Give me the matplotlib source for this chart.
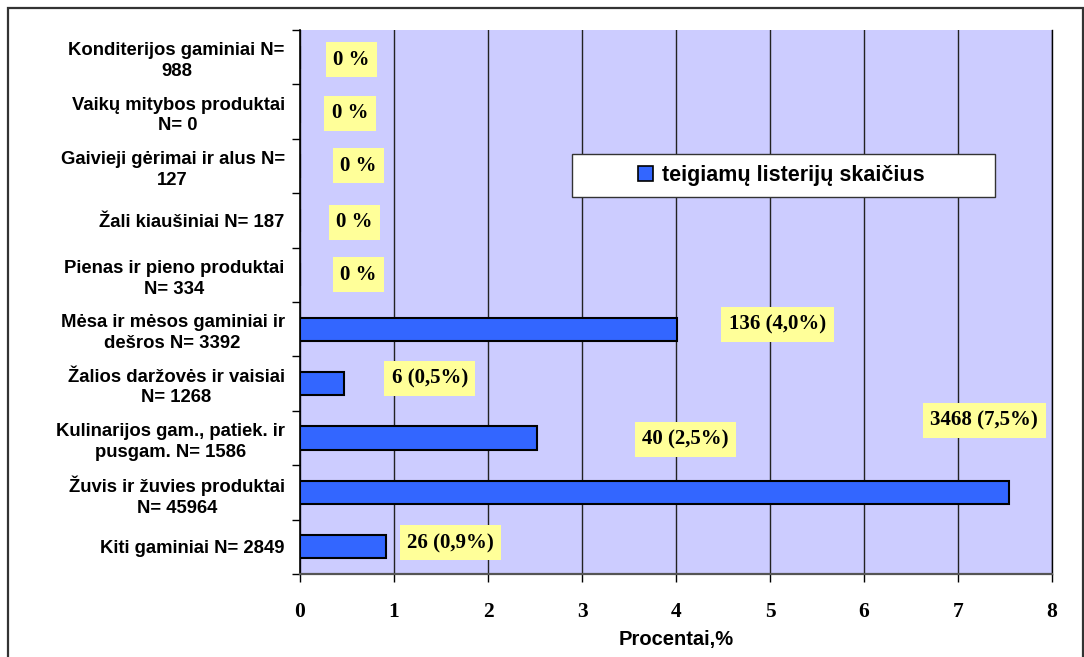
import matplotlib
matplotlib.use("Agg")
import matplotlib.pyplot as plt
from matplotlib.patches import Rectangle, Patch

# --- data ---------------------------------------------------------------
categories = [
    "Konditerijos gaminiai N=\n988",
    "Vaikų mitybos produktai\nN= 0",
    "Gaivieji gėrimai ir alus N=\n127",
    "Žali kiaušiniai N= 187",
    "Pienas ir pieno produktai\nN= 334",
    "Mėsa ir mėsos gaminiai ir\ndešros N= 3392",
    "Žalios daržovės ir vaisiai\nN= 1268",
    "Kulinarijos gam., patiek. ir\npusgam. N= 1586",
    "Žuvis ir žuvies produktai\nN= 45964",
    "Kiti gaminiai N= 2849",
]
sample_sizes = [988, 0, 127, 187, 334, 3392, 1268, 1586, 45964, 2849]
positive_counts = [0, 0, 0, 0, 0, 136, 6, 40, 3468, 26]
x_ticks = [0, 1, 2, 3, 4, 5, 6, 7, 8]
series_name = "teigiamų listerijų skaičius"
x_title = "Procentai,%"

# share of positive samples, in percent
percent = [c / n * 100 if n else 0.0 for c, n in zip(positive_counts, sample_sizes)]

# where each value label sits (x in percent units, y in category units)
label_x = [0.55, 0.53, 0.62, 0.58, 0.62, 5.08, 1.38, 4.10, 7.28, 1.60]
label_y = [0.05, 1.03, 2.00, 3.03, 4.00, 4.92, 5.90, 7.02, 6.67, 8.93]


def value_label(count, pct):
    if count == 0:
        return "0 %"
    return f"{count} ({pct:.1f}%)".replace(".", ",")


# --- styling ------------------------------------------------------------
SANS = ["Liberation Sans", "DejaVu Sans"]
SERIF = ["Liberation Serif", "DejaVu Serif"]
BAR_COLOR = "#3366FF"
PLOT_BG = "#CCCCFF"
LABEL_BG = "#FFFF99"

fig = plt.figure(figsize=(10.84, 6.57), dpi=100)
fig.patch.set_facecolor("white")

# outer chart frame
fig.patches.append(Rectangle((8 / 1084, -0.02), 1075 / 1084, 1.02 - 8 / 657,
                             transform=fig.transFigure, fill=False,
                             edgecolor="#333333", linewidth=1.6, zorder=0))

ax = fig.add_axes([300 / 1084, 1 - 574 / 657, 752 / 1084, 544 / 657])
ax.set_facecolor(PLOT_BG)

ypos = list(range(len(categories)))
ax.barh(ypos, percent, height=0.43, color=BAR_COLOR, edgecolor="black",
        linewidth=1.5, zorder=3)

ax.set_xlim(0, 8)
ax.set_ylim(len(categories) - 0.5, -0.5)

# vertical gridlines
ax.set_xticks(x_ticks)
ax.set_xticklabels([str(t) for t in x_ticks], fontfamily=SERIF,
                   fontweight="bold", fontsize=15.5)
ax.xaxis.grid(True, color="#222222", linewidth=1.0, zorder=1)
ax.set_axisbelow(True)
ax.tick_params(axis="x", direction="out", length=6, width=1, color="black",
               pad=14)

# category labels, with ticks on the category boundaries
ax.set_yticks(ypos)
ax.set_yticklabels(categories, fontfamily=SANS, fontweight="bold",
                   fontsize=13.3, ha="right", multialignment="center",
                   linespacing=1.3)
ax.tick_params(axis="y", which="major", length=0, pad=11)
ax.set_yticks([i - 0.5 for i in range(len(categories) + 1)], minor=True)
ax.tick_params(axis="y", which="minor", direction="out", length=6,
               width=1, color="black")

ax.spines["top"].set_visible(False)
ax.spines["right"].set_color("black")
ax.spines["right"].set_linewidth(1.0)
ax.spines["left"].set_color("black")
ax.spines["left"].set_linewidth(1.2)
ax.spines["bottom"].set_color("#555555")
ax.spines["bottom"].set_linewidth(1.6)

ax.set_xlabel(x_title, fontfamily=SANS, fontweight="bold", fontsize=14.5,
              labelpad=6)

# value labels on yellow boxes
for cnt, pct, lx, ly in zip(positive_counts, percent, label_x, label_y):
    ax.text(lx, ly, value_label(cnt, pct), ha="center", va="center",
            fontfamily=SERIF, fontweight="bold", fontsize=15, zorder=5,
            bbox=dict(boxstyle="square,pad=0.36", facecolor=LABEL_BG,
                      edgecolor="none"))

# legend box
lx0, ly0, lw, lh = 572 / 1084, 1 - 197 / 657, 423 / 1084, 43 / 657
fig.patches.append(Rectangle((lx0, ly0), lw, lh, transform=fig.transFigure,
                             facecolor="white", edgecolor="#333333",
                             linewidth=1.0, zorder=4))
handle = Patch(facecolor=BAR_COLOR, edgecolor="black", linewidth=1.2)
leg = fig.legend([handle], [series_name], loc="center",
                 bbox_to_anchor=(lx0 + lw / 2 - 0.002, ly0 + lh / 2),
                 frameon=False, handlelength=0.7, handleheight=0.7,
                 handletextpad=0.4,
                 prop=dict(family=SANS, weight="bold", size=15.5))
leg.set_zorder(6)

fig.savefig("out.png", dpi=100)
